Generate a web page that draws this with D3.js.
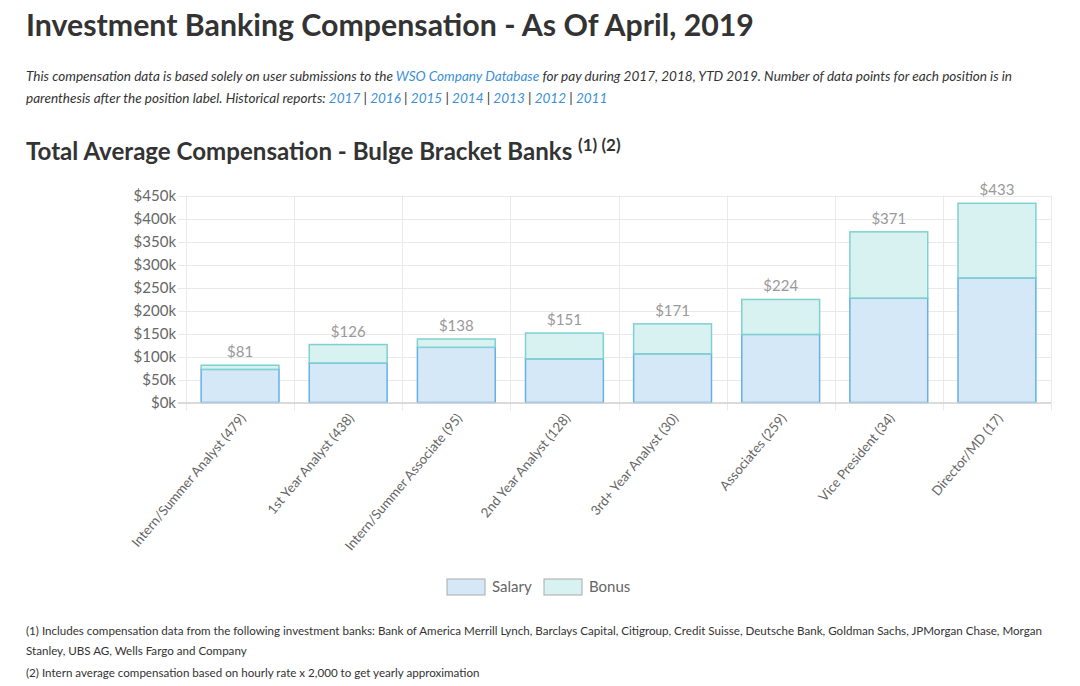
<!DOCTYPE html>
<html>
<head>
<meta charset="utf-8">
<script src="https://cdn.jsdelivr.net/npm/d3@7"></script>
<style>
  body { margin: 0; background: #fff; }
  text { font-family: Lato, "Open Sans", sans-serif; }
</style>
</head>
<body>
<div id="chart"></div>
<script>
// Data
const positions = [
    "Intern/Summer Analyst (479)",
    "1st Year Analyst (438)",
    "Intern/Summer Associate (95)",
    "2nd Year Analyst (128)",
    "3rd+ Year Analyst (30)",
    "Associates (259)",
    "Vice President (34)",
    "Director/MD (17)"
];
const salary = [72, 86, 120, 95, 106, 148, 227, 271];
const bonus = [9, 40, 18, 56, 65, 76, 144, 162];
const yTicks = [0, 50, 100, 150, 200, 250, 300, 350, 400, 450];
const seriesNames = ["Salary", "Bonus"];
const reportYears = ["2017", "2016", "2015", "2014", "2013", "2012", "2011"];

const rows = positions.map((p, i) => ({ name: p, Salary: salary[i], Bonus: bonus[i] }));

const W = 1080, H = 686;
const svg = d3.select("#chart").append("svg")
    .attr("width", W)
    .attr("height", H);

// Header text
svg.append("text")
    .attr("x", 26).attr("y", 36)
    .attr("font-size", 30.3).attr("font-weight", 700)
    .attr("fill", "#333")
    .text("Investment Banking Compensation - As Of April, 2019");

const para = svg.append("g")
    .attr("font-size", 13.55)
    .attr("font-style", "italic")
    .attr("fill", "#333");

const l1 = para.append("text").attr("x", 26).attr("y", 80.5);
l1.append("tspan").text("This compensation data is based solely on user submissions to the ");
l1.append("tspan").attr("fill", "#3b8fd6").text("WSO Company Database");
l1.append("tspan").text(" for pay during 2017, 2018, YTD 2019. Number of data points for each position is in");

const l2 = para.append("text").attr("x", 26).attr("y", 102.5);
l2.append("tspan").text("parenthesis after the position label. Historical reports: ");
reportYears.forEach((yr, i) => {
    if (i > 0) l2.append("tspan").text(" | ");
    l2.append("tspan").attr("fill", "#3b8fd6").text(yr);
});

const sub = svg.append("text")
    .attr("x", 26).attr("y", 160)
    .attr("font-size", 24.1).attr("font-weight", 700)
    .attr("fill", "#333");
sub.append("tspan").text("Total Average Compensation - Bulge Bracket Banks ");
sub.append("tspan").attr("font-size", 17).attr("dy", -9).text("(1) (2)");

// Chart area
const plot = { left: 186, right: 1051, top: 195.5, bottom: 402.5 };

const x = d3.scaleBand()
    .domain(positions)
    .range([plot.left, plot.right])
    .padding(0);

const y = d3.scaleLinear()
    .domain([0, 450])
    .range([plot.bottom, plot.top]);

const barW = x.bandwidth() * 0.72;

// grid
const grid = svg.append("g").attr("stroke", "#e9e9e9").attr("stroke-width", 1);
grid.selectAll("line.h")
    .data(yTicks.filter(d => d > 0))
    .join("line")
    .attr("x1", plot.left - 8).attr("x2", plot.right)
    .attr("y1", d => Math.round(y(d)) + 0.5).attr("y2", d => Math.round(y(d)) + 0.5);
grid.selectAll("line.v")
    .data(positions.map(p => x(p)).concat([plot.right]))
    .join("line")
    .attr("x1", d => Math.round(d) + 0.5).attr("x2", d => Math.round(d) + 0.5)
    .attr("y1", plot.top).attr("y2", plot.bottom + 8);

// y axis
const yAxis = svg.append("g")
    .attr("transform", `translate(${plot.left},0)`)
    .call(d3.axisLeft(y).tickValues(yTicks).tickFormat(d => `$${d}k`).tickSize(0).tickPadding(10));
yAxis.select(".domain").remove();
yAxis.selectAll("text")
    .attr("font-family", "Lato, sans-serif")
    .attr("font-size", 15)
    .attr("fill", "#666");

// stacked bars
const stack = d3.stack().keys(seriesNames);
const series = stack(rows);
const fill = { Salary: "#d5e8f8", Bonus: "#d8f2f1" };
const stroke = { Salary: "#65b0e6", Bonus: "#7fd0cf" };

svg.append("g")
    .selectAll("g")
    .data(series)
    .join("g")
    .attr("fill", d => fill[d.key])
    .attr("stroke", d => stroke[d.key])
    .attr("stroke-width", 1.5)
    .selectAll("rect")
    .data(d => d)
    .join("rect")
    .attr("x", d => x(d.data.name) + (x.bandwidth() - barW) / 2)
    .attr("y", d => y(d[1]))
    .attr("width", barW)
    .attr("height", d => y(d[0]) - y(d[1]));

// x axis line
svg.append("line")
    .attr("x1", plot.left - 8).attr("x2", plot.right)
    .attr("y1", plot.bottom + 0.5).attr("y2", plot.bottom + 0.5)
    .attr("stroke", "#cfcfcf").attr("stroke-width", 1.5);

// totals above bars
svg.append("g")
    .selectAll("text")
    .data(rows)
    .join("text")
    .attr("x", d => x(d.name) + x.bandwidth() / 2)
    .attr("y", d => y(d.Salary + d.Bonus) - 8)
    .attr("text-anchor", "middle")
    .attr("font-size", 15)
    .attr("fill", "#999")
    .text(d => `$${d.Salary + d.Bonus}`);

// x labels
svg.append("g")
    .selectAll("text")
    .data(positions)
    .join("text")
    .attr("transform", d => `translate(${x(d) + x.bandwidth() / 2 + 3},${plot.bottom + 13}) rotate(-50)`)
    .attr("text-anchor", "end")
    .attr("dy", "0.35em")
    .attr("font-size", 13.3)
    .attr("fill", "#666")
    .text(d => d);

// legend
const legend = svg.append("g")
    .selectAll("g")
    .data(seriesNames)
    .join("g")
    .attr("transform", (d, i) => `translate(${447 + i * 97},579)`);
legend.append("rect")
    .attr("width", 38).attr("height", 16)
    .attr("fill", d => fill[d])
    .attr("stroke", "#aaa").attr("stroke-width", 1);
legend.append("text")
    .attr("x", 45).attr("y", 8)
    .attr("dy", "0.35em")
    .attr("font-size", 15)
    .attr("fill", "#666")
    .text(d => d);

// footnotes
const notes = [
    "(1) Includes compensation data from the following investment banks: Bank of America Merrill Lynch, Barclays Capital, Citigroup, Credit Suisse, Deutsche Bank, Goldman Sachs, JPMorgan Chase, Morgan",
    "Stanley, UBS AG, Wells Fargo and Company",
    "(2) Intern average compensation based on hourly rate x 2,000 to get yearly approximation"
];
svg.append("g")
    .selectAll("text")
    .data(notes)
    .join("text")
    .attr("x", 26)
    .attr("y", (d, i) => [635, 655, 677][i])
    .attr("font-size", 11.6)
    .attr("fill", "#333")
    .text(d => d);
</script>
</body>
</html>
